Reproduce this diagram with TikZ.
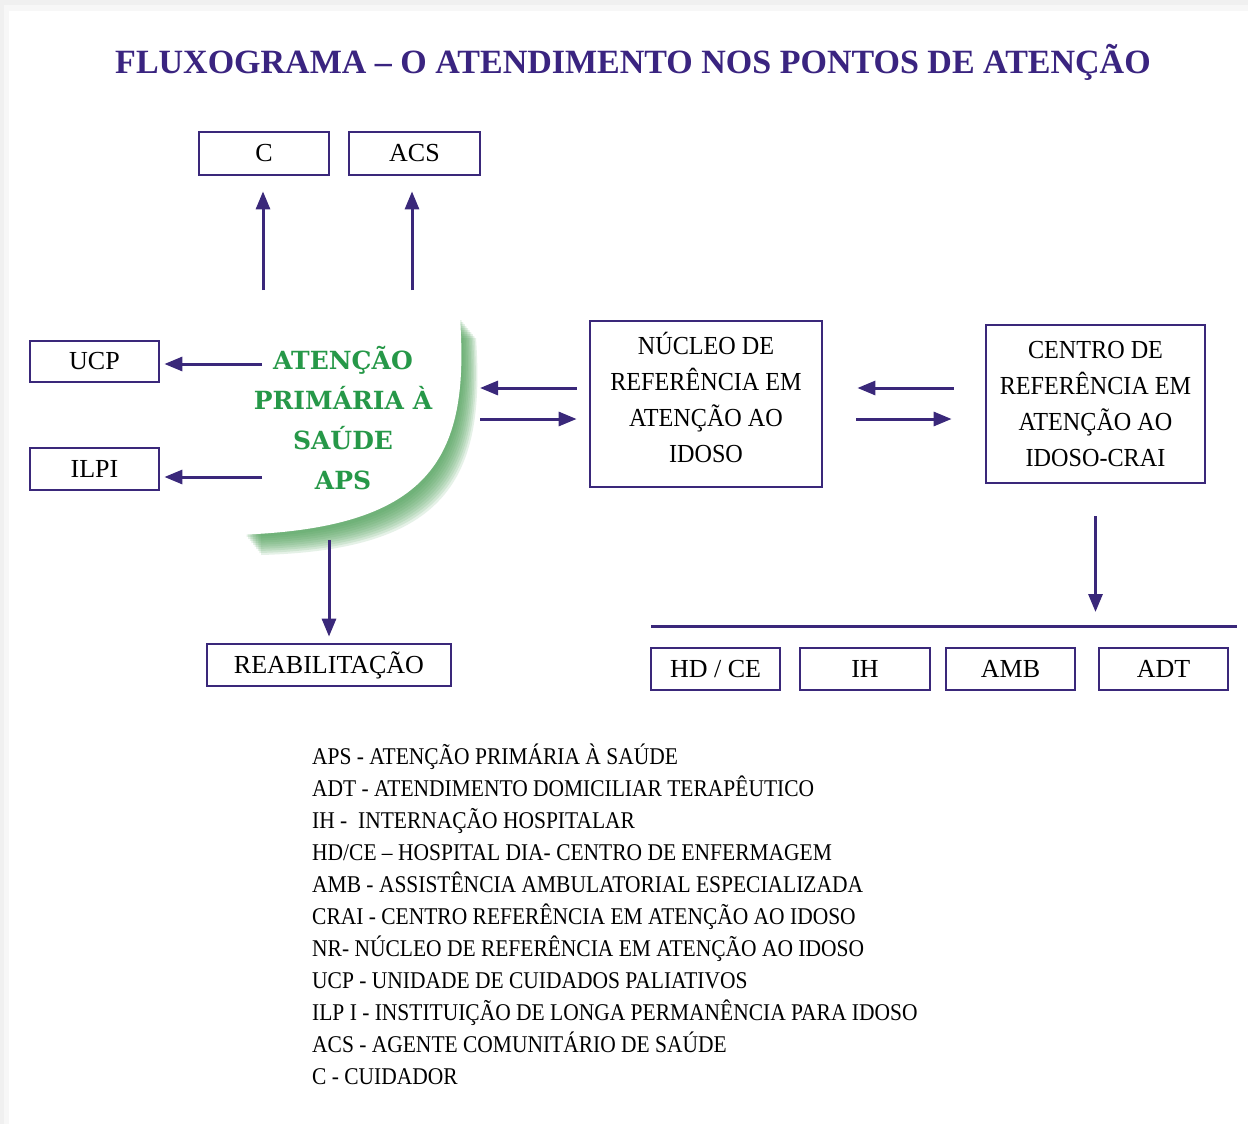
\documentclass[tikz,border=0pt]{standalone}
\usepackage{fontspec}
\setmainfont{Liberation Serif}
\newfontfamily\boxfont[FakeStretch=0.93]{Liberation Serif}
\newfontfamily\legfont[FakeStretch=0.895]{Liberation Serif}
\newfontfamily\apsfont{DejaVu Serif}
\usetikzlibrary{arrows.meta}
\definecolor{ink}{RGB}{58,40,122}
\definecolor{titleink}{RGB}{58,36,128}
\definecolor{apsgreen}{RGB}{38,152,72}
\definecolor{apsshadow}{RGB}{76,160,86}
\begin{document}
\begin{tikzpicture}[x=1pt,y=-1pt,
 box/.style={draw=ink, line width=2.8pt, fill=white, inner sep=0pt,
   font=\fontsize{26}{36}\selectfont, align=center},
 bigbox/.style={box, font=\boxfont\fontsize{26}{36}\selectfont},
 arr/.style={draw=ink, line width=3pt, -{Triangle[length=18pt,width=14pt]}},
 rule/.style={draw=ink, line width=3pt},
 legend/.style={anchor=base west, inner sep=0pt, font=\legfont\fontsize{24}{32}\selectfont},
]
\useasboundingbox (0,0) rectangle (1248,1124);
% page background
\fill[black!6] (0,0) rectangle (1248,1124);
\fill[black!3] (4,5) rectangle (1248,1124);
\fill[white] (9,11) rectangle (1248,1124);

% title
\node[anchor=base, inner sep=0pt, font=\bfseries\fontsize{34}{40}\selectfont, text=titleink] (title) at (633,73.5)
  {FLUXOGRAMA – O ATENDIMENTO NOS PONTOS DE ATENÇÃO};

% APS leaf shape with soft green shadow
\foreach \d in {2,4,...,20}
  \fill[apsshadow, opacity=0.14, shift={(0.8*\d,\d)}]
    (245,318) -- (460,318) .. controls (470,460) and (430,530) .. (245,535) -- cycle;
\fill[white] (232,318) -- (460,318) .. controls (470,460) and (430,530) .. (232,535) -- cycle;
\node[font=\apsfont\bfseries\fontsize{25}{40}\selectfont, text=apsgreen, align=center, inner sep=0pt]
  (APS) at (343,418) {ATENÇÃO\\PRIMÁRIA À\\SAÚDE\\APS};

% boxes
\node[box, minimum width=130pt, minimum height=43pt] (C) at (264,153.5) {C};
\node[box, minimum width=131pt, minimum height=43pt] (ACS) at (414.5,153.5) {ACS};
\node[box, minimum width=129pt, minimum height=41pt] (UCP) at (94.5,361.5) {UCP};
\node[box, minimum width=129pt, minimum height=42pt] (ILPI) at (94.5,469) {ILPI};
\node[bigbox, minimum width=232pt, minimum height=166pt] (NR) at (706,404)
  {NÚCLEO DE\\REFERÊNCIA EM\\ATENÇÃO AO\\IDOSO\rule[-14pt]{0pt}{14pt}};
\node[bigbox, minimum width=219pt, minimum height=158pt] (CRAI) at (1095.5,404)
  {CENTRO DE\\REFERÊNCIA EM\\ATENÇÃO AO\\IDOSO-CRAI};
\node[box, minimum width=244pt, minimum height=42pt] (REAB) at (329,665) {REABILITAÇÃO};
\node[box, minimum width=129pt, minimum height=42pt] (HD) at (715.5,669) {HD / CE};
\node[box, minimum width=130pt, minimum height=42pt] (IH) at (865,669) {IH};
\node[box, minimum width=129pt, minimum height=42pt] (AMB) at (1010.5,669) {AMB};
\node[box, minimum width=129pt, minimum height=42pt] (ADT) at (1163.5,669) {ADT};

% connectors
\coordinate (cS) at (263,290);
\draw[arr, shorten >=15pt] (cS) -- (cS |- C.south);
\coordinate (acsS) at (412,290);
\draw[arr, shorten >=15pt] (acsS) -- (acsS |- ACS.south);
\coordinate (ucpS) at (262,364);
\draw[arr, shorten >=4pt] (ucpS) -- (ucpS -| UCP.east);
\coordinate (ilpiS) at (262,477);
\draw[arr, shorten >=4pt] (ilpiS) -- (ilpiS -| ILPI.east);
\coordinate (reabS) at (329,540);
\draw[arr, shorten >=6pt] (reabS) -- (REAB.north);

\coordinate (apsR1) at (480,388);
\coordinate (apsR2) at (480,419);
\draw[arr, shorten <=12pt] (NR.west |- apsR1) -- (apsR1);
\draw[arr, shorten >=12pt] (apsR2) -- (NR.west |- apsR2);
\draw[arr, shorten <=31pt, shorten >=34pt] (CRAI.west |- apsR1) -- (NR.east |- apsR1);
\draw[arr, shorten <=33pt, shorten >=33pt] (NR.east |- apsR2) -- (CRAI.west |- apsR2);

\coordinate (barL) at (651,626);
\coordinate (barR) at (1237,626);
\draw[arr, shorten <=32pt, shorten >=14pt] (CRAI.south) -- (CRAI.south |- barL);
\draw[rule] (barL) -- (barR);

% legend
\foreach \t [count=\i] in {
  APS - ATENÇÃO PRIMÁRIA À SAÚDE,
  ADT - ATENDIMENTO DOMICILIAR TERAPÊUTICO,
  IH -\ \ INTERNAÇÃO HOSPITALAR,
  HD/CE – HOSPITAL DIA- CENTRO DE ENFERMAGEM,
  AMB - ASSISTÊNCIA AMBULATORIAL ESPECIALIZADA,
  CRAI - CENTRO REFERÊNCIA EM ATENÇÃO AO IDOSO,
  NR- NÚCLEO DE REFERÊNCIA EM ATENÇÃO AO IDOSO,
  UCP - UNIDADE DE CUIDADOS PALIATIVOS,
  ILP I - INSTITUIÇÃO DE LONGA PERMANÊNCIA PARA IDOSO,
  ACS - AGENTE COMUNITÁRIO DE SAÚDE,
  C - CUIDADOR}
  \node[legend] (leg\i) at (312,{764+(\i-1)*32}) {\t};
\end{tikzpicture}
\end{document}
